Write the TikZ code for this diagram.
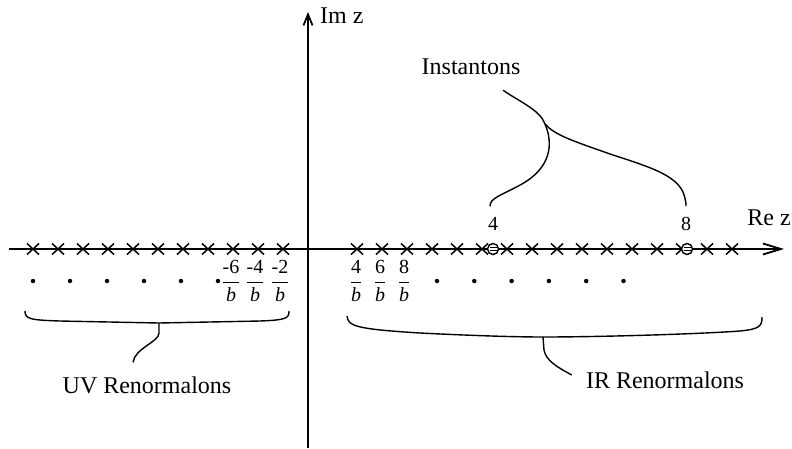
\documentclass[tikz,border=0pt]{standalone}
\usepackage{fontspec}
\setmainfont{Liberation Serif}
\usetikzlibrary{arrows.meta}

\newcommand{\overb}[1]{$\displaystyle\frac{\hbox{#1}}{\hbox{\itshape b}}$}

\begin{document}
\begin{tikzpicture}[
  x=1pt, y=-1pt,
  axis/.style={line width=1.8pt},
  lbl/.style={font=\fontsize{24}{28}\selectfont, inner sep=0pt},
  num/.style={font=\fontsize{20}{24}\selectfont, inner sep=0pt},
  lead/.style={line width=1.4pt},
  dot/.style={circle, fill, inner sep=0pt, minimum size=4.5pt},
  inst/.style={circle, draw, fill=white, line width=1.4pt, inner sep=0pt, minimum size=11pt},
  pole/.pic={\draw[line width=1.5pt] (-6,-5.5) -- (6,5.5) (-6,5.5) -- (6,-5.5);}
]
  \useasboundingbox (0,0) rectangle (792,448);

  % axes
  \coordinate (xs) at (9,249);
  \coordinate (xe) at (784,249);
  \coordinate (ys) at (308,448);
  \coordinate (ye) at (308,12);
  \draw[axis, -{Straight Barb[length=18pt,width=11pt]}] (xs) -- (xe);
  \draw[axis, -{Straight Barb[length=11pt,width=9pt]}] (ys) -- (ye);
  \node[lbl, anchor=west] (im) at (320,16) {Im z};
  \node[lbl] (re) at (769,218) {Re z};

  % poles on the real axis
  \foreach \i in {0,...,10}
    \pic at (33+25*\i,249) {pole};
  \foreach \i in {0,...,15}
    \pic at (357+25*\i,249) {pole};

  % instanton points
  \node[inst] (c4) at (493,249) {};
  \node[inst] (c8) at (687,249) {};
  \foreach \c in {c4,c8} {
    \draw[line width=0.8pt] ([shift={(-3.5,-1.8)}]\c.center) -- ++(7,0);
    \draw[line width=0.8pt] ([shift={(-3.5,1.8)}]\c.center) -- ++(7,0);
  }
  \node[num] (n4) at (493,224) {4};
  \node[num] (n8) at (686,224) {8};

  % renormalon dots and fractions
  \foreach \i in {0,...,5}
    \node[dot] (dl\i) at (33+37*\i,281) {};
  \foreach \i in {0,...,5}
    \node[dot] (dr\i) at (437+37.3*\i,281) {};
  \node[num] (fl6) at (231,281) {\overb{-6}};
  \node[num] (fl4) at (255,281) {\overb{-4}};
  \node[num] (fl2) at (280,281) {\overb{-2}};
  \node[num] (fr4) at (356,281) {\overb{4}};
  \node[num] (fr6) at (380,281) {\overb{6}};
  \node[num] (fr8) at (404,281) {\overb{8}};

  % labels
  \node[lbl] (ins) at (471,67) {Instantons};
  \node[lbl] (uv) at (147,385) {UV Renormalons};
  \node[lbl] (ir) at (665,380) {IR Renormalons};

  % braces
  \coordinate (uvb) at (159,323);
  \coordinate (irb) at (543,337);
  \draw[lead] (25,311) .. controls (25,319) and (30,320) .. (60,321)
    -- (uvb) -- (260,321) .. controls (287,320) and (289,318) .. (289,311);
  \draw[lead] (347,316) .. controls (348,326) and (355,329) .. (420,333)
    .. controls (480,336) and (520,337) .. (irb)
    .. controls (600,337) and (700,334) .. (740,331)
    .. controls (760,329) and (762,326) .. (762,317);
  \draw[lead] (uvb) -- (159,333) .. controls (159,342) and (135,348) .. ([xshift=-14pt,yshift=14pt]uv.north);
  \draw[lead] (irb) -- (544,350) .. controls (546,360) and (555,366) .. ([xshift=-14pt,yshift=5pt]ir.west);

  % instanton leaders
  \coordinate (j) at (545,124);
  \draw[lead] ([xshift=32pt,yshift=-15pt]ins.south) .. controls (520,102) and (540,110) .. (j);
  \draw[lead] (j) .. controls (554,145) and (550,168) .. (522,184)
    .. controls (500,196) and (490,198) .. ([xshift=-3pt,yshift=11pt]n4.north);
  \draw[lead] (j) .. controls (555,135) and (570,140) .. (613,155)
    .. controls (650,167) and (675,175) .. (683,192)
    .. controls (686,200) and (686,204) .. ([yshift=11pt]n8.north);
\end{tikzpicture}
\end{document}
